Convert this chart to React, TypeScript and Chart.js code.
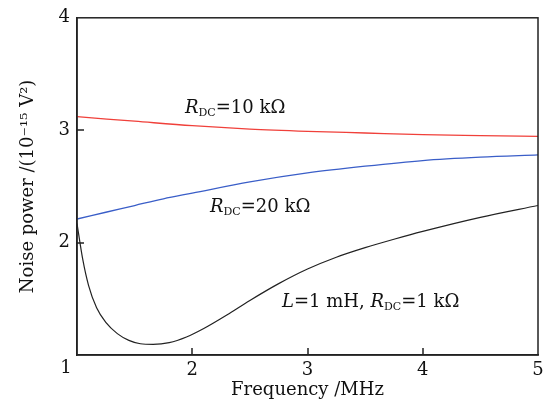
import React, { useEffect, useRef } from 'react';
import { Chart, registerables } from 'chart.js';
Chart.register(...registerables);

const redX = [1, 1.5, 2, 2.5, 3, 3.5, 4, 4.5, 5];
const redY = [3.12, 3.08, 3.04, 3.01, 2.99, 2.975, 2.96, 2.952, 2.945];
const blueX = [1, 1.25, 1.5, 1.75, 2, 2.5, 3, 3.5, 4, 4.5, 5];
const blueY = [2.21, 2.27, 2.33, 2.39, 2.44, 2.54, 2.62, 2.68, 2.73, 2.76, 2.78];
const blackX = [1, 1.05, 1.1, 1.17, 1.25, 1.35, 1.45, 1.55, 1.66, 1.8, 1.95, 2.1, 2.3, 2.5, 2.75, 3.0, 3.25, 3.5, 3.75, 4.0, 4.5, 5];
const blackY = [2.17, 1.85, 1.62, 1.42, 1.29, 1.19, 1.13, 1.1, 1.095, 1.11, 1.16, 1.235, 1.355, 1.485, 1.635, 1.765, 1.87, 1.955, 2.03, 2.1, 2.225, 2.33];

const xTicks = [1, 2, 3, 4, 5];
const yTicks = [1, 2, 3, 4];
const xTitle = 'Frequency /MHz';
const yTitle = 'Noise power /(10\u207B\u00B9\u2075 V\u00B2)';

type Seg = { t: string; i?: boolean; sub?: boolean };
const label1: Seg[] = [{ t: 'R', i: true }, { t: 'DC', sub: true }, { t: '=10 k\u03A9' }];
const label2: Seg[] = [{ t: 'R', i: true }, { t: 'DC', sub: true }, { t: '=20 k\u03A9' }];
const label3: Seg[] = [
  { t: 'L', i: true }, { t: '=1 mH, ' }, { t: 'R', i: true }, { t: 'DC', sub: true }, { t: '=1 k\u03A9' },
];
const labelX = [1.937, 2.154, 2.779];
const labelY = [3.153, 2.271, 1.423];
const labels = [label1, label2, label3];

const FONT = "'DejaVu Serif', 'Liberation Serif', serif";

const overlay = {
  id: 'overlay',
  afterDraw(chart: any) {
    const { ctx, chartArea, scales } = chart;
    ctx.save();
    ctx.strokeStyle = '#222';
    ctx.lineWidth = 1.5;
    ctx.strokeRect(chartArea.left, chartArea.top, chartArea.right - chartArea.left, chartArea.bottom - chartArea.top);
    // inward tick marks
    ctx.lineWidth = 1.5;
    ctx.beginPath();
    xTicks.slice(1, -1).forEach((v) => {
      const px = Math.round(scales.x.getPixelForValue(v));
      ctx.moveTo(px, chartArea.bottom);
      ctx.lineTo(px, chartArea.bottom - 7);
    });
    yTicks.slice(1, -1).forEach((v) => {
      const py = Math.round(scales.y.getPixelForValue(v));
      ctx.moveTo(chartArea.left, py);
      ctx.lineTo(chartArea.left + 7, py);
    });
    ctx.stroke();
    // corner "1"
    ctx.fillStyle = '#111';
    ctx.font = `18px ${FONT}`;
    ctx.textAlign = 'center';
    ctx.textBaseline = 'top';
    ctx.fillText('1', scales.x.getPixelForValue(1) - 11, chartArea.bottom + 4);
    // annotations
    ctx.textAlign = 'left';
    ctx.textBaseline = 'alphabetic';
    labels.forEach((segs, k) => {
      let px = scales.x.getPixelForValue(labelX[k]);
      const py = scales.y.getPixelForValue(labelY[k]);
      segs.forEach((s) => {
        if (s.sub) {
          ctx.font = `11px ${FONT}`;
          ctx.fillText(s.t, px, py + 3);
        } else {
          ctx.font = `${s.i ? 'italic ' : ''}18px ${FONT}`;
          ctx.fillText(s.t, px, py);
        }
        px += ctx.measureText(s.t).width;
      });
    });
    ctx.restore();
  },
};

export default function App() {
  const ref = useRef<HTMLCanvasElement | null>(null);
  useEffect(() => {
    if (!ref.current) return;
    const mk = (xs: number[], ys: number[]) => xs.map((x, i) => ({ x, y: ys[i] }));
    const chart = new Chart(ref.current, {
      type: 'line',
      data: {
        datasets: [
          { data: mk(redX, redY), borderColor: '#f0403a', borderWidth: 1.3, pointRadius: 0, cubicInterpolationMode: 'monotone' },
          { data: mk(blueX, blueY), borderColor: '#3a5ec8', borderWidth: 1.3, pointRadius: 0, cubicInterpolationMode: 'monotone' },
          { data: mk(blackX, blackY), borderColor: '#222', borderWidth: 1.2, pointRadius: 0, cubicInterpolationMode: 'monotone' },
        ],
      },
      options: {
        animation: false,
        responsive: true,
        maintainAspectRatio: false,
        layout: { padding: { left: 0, top: 14, right: 15, bottom: 0 } },
        plugins: { legend: { display: false }, tooltip: { enabled: false } },
        scales: {
          x: {
            type: 'linear',
            min: 1,
            max: 5,
            afterBuildTicks: (s: any) => { s.ticks = xTicks.map((v) => ({ value: v })); },
            afterFit: (s: any) => { s.height = 46; },
            ticks: {
              color: '#111',
              font: { family: FONT, size: 18 },
              padding: 5,
              maxRotation: 0,
              callback: (v: any) => (v === 1 ? '' : String(v)),
            },
            grid: { drawOnChartArea: false, drawTicks: false },
            border: { display: true, color: '#222', width: 1.5 },
            title: { display: true, text: xTitle, color: '#111', font: { family: FONT, size: 18 }, padding: { top: 0, bottom: 0 } },
          },
          y: {
            type: 'linear',
            min: 1,
            max: 4,
            afterBuildTicks: (s: any) => { s.ticks = yTicks.map((v) => ({ value: v })); },
            afterFit: (s: any) => { s.width = 77; },
            ticks: {
              color: '#111',
              font: { family: FONT, size: 18 },
              padding: 7,
              callback: (v: any) => (v === 1 ? '' : String(v)),
            },
            grid: { drawOnChartArea: false, drawTicks: false },
            border: { display: true, color: '#222', width: 1.5 },
            title: { display: true, text: yTitle, color: '#111', font: { family: FONT, size: 18 }, padding: { top: 18, bottom: 0 } },
          },
        },
      },
      plugins: [overlay],
    } as any);
    return () => chart.destroy();
  }, []);
  return (
    <div style={{ position: 'absolute', left: 0, top: 0, width: 553, height: 401 }}>
      <canvas ref={ref} />
    </div>
  );
}
